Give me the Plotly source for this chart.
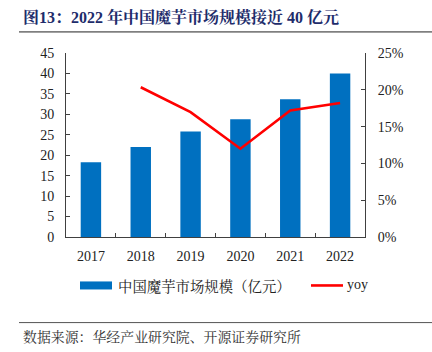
import plotly.graph_objects as go

years = ["2017", "2018", "2019", "2020", "2021", "2022"]
market_size = [18.3, 22.0, 25.8, 28.8, 33.7, 40.0]
yoy_years = ["2018", "2019", "2020", "2021", "2022"]
yoy = [0.2035, 0.1697, 0.120, 0.172, 0.182]

title_text = "图13：2022 年中国魔芋市场规模接近 40 亿元"
bar_name = "中国魔芋市场规模（亿元）"
line_name = "yoy"
source_text = "数据来源：华经产业研究院、开源证券研究所"

W, H = 432, 352
L, R, T, B = 66, 67, 53.3, 115.3

serif = "Liberation Serif, Times New Roman, serif"
cjk = "Noto Serif CJK SC, Noto Sans CJK SC, serif"

fig = go.Figure()
fig.add_trace(go.Bar(x=years, y=market_size, name=bar_name,
                     marker=dict(color="#0070C0", line=dict(width=0)),
                     width=0.41, showlegend=False))
fig.add_trace(go.Scatter(x=yoy_years, y=yoy, name=line_name, yaxis="y2",
                         mode="lines", line=dict(color="#FF0000", width=2.6),
                         showlegend=False))

axis_common = dict(showgrid=False, zeroline=False, showline=True,
                   linecolor="#404040", linewidth=1, ticks="inside",
                   ticklen=4, tickcolor="#404040",
                   tickfont=dict(family=serif, size=14, color="#222"))

fig.update_layout(
    width=W, height=H,
    margin=dict(l=L, r=R, t=T, b=B, pad=0),
    paper_bgcolor="white", plot_bgcolor="white",
    xaxis=dict(type="category", tickson="boundaries", ticklabelstandoff=6,
               **axis_common),
    yaxis=dict(range=[0, 45], dtick=5, ticklabelstandoff=8, **axis_common),
    yaxis2=dict(range=[0, 0.25], dtick=0.05, tickformat=".0%", overlaying="y",
                side="right", ticklabelstandoff=9, **axis_common),
    bargap=0.59,
)

def px2x(px):
    return (px - L) / (W - L - R)

def px2y(py):
    return (H - B - py) / (H - T - B)

shapes = [
    # title underline
    dict(type="line", xref="paper", yref="paper", x0=px2x(19), x1=px2x(432),
         y0=px2y(32.3), y1=px2y(32.3), line=dict(color="#222", width=1)),
    # footer line
    dict(type="line", xref="paper", yref="paper", x0=px2x(19), x1=px2x(432),
         y0=px2y(322), y1=px2y(322), line=dict(color="#555", width=1)),
    # legend bar swatch
    dict(type="rect", xref="paper", yref="paper", x0=px2x(80), x1=px2x(112),
         y0=px2y(289), y1=px2y(281), fillcolor="#0070C0", line=dict(width=0)),
    # legend line swatch
    dict(type="line", xref="paper", yref="paper", x0=px2x(311), x1=px2x(343),
         y0=px2y(285), y1=px2y(285), line=dict(color="#FF0000", width=2.6)),
]

annotations = [
    dict(text="<b>" + title_text + "</b>", xref="paper", yref="paper",
         x=px2x(21), y=px2y(17), xanchor="left", yanchor="middle",
         showarrow=False, font=dict(family="Liberation Serif, " + cjk,
                                    size=16, color="#1E2C6B")),
    dict(text=bar_name, xref="paper", yref="paper", x=px2x(116), y=px2y(285),
         xanchor="left", yanchor="middle", showarrow=False,
         font=dict(family=cjk, size=14.4, color="#222")),
    dict(text=line_name, xref="paper", yref="paper", x=px2x(345), y=px2y(284),
         xanchor="left", yanchor="middle", showarrow=False,
         font=dict(family=serif, size=14, color="#222")),
    dict(text=source_text, xref="paper", yref="paper", x=px2x(21), y=px2y(335),
         xanchor="left", yanchor="middle", showarrow=False,
         font=dict(family=cjk, size=13.9, color="#333")),
]

fig.update_layout(shapes=shapes, annotations=annotations)
fig.write_html("out.html")
